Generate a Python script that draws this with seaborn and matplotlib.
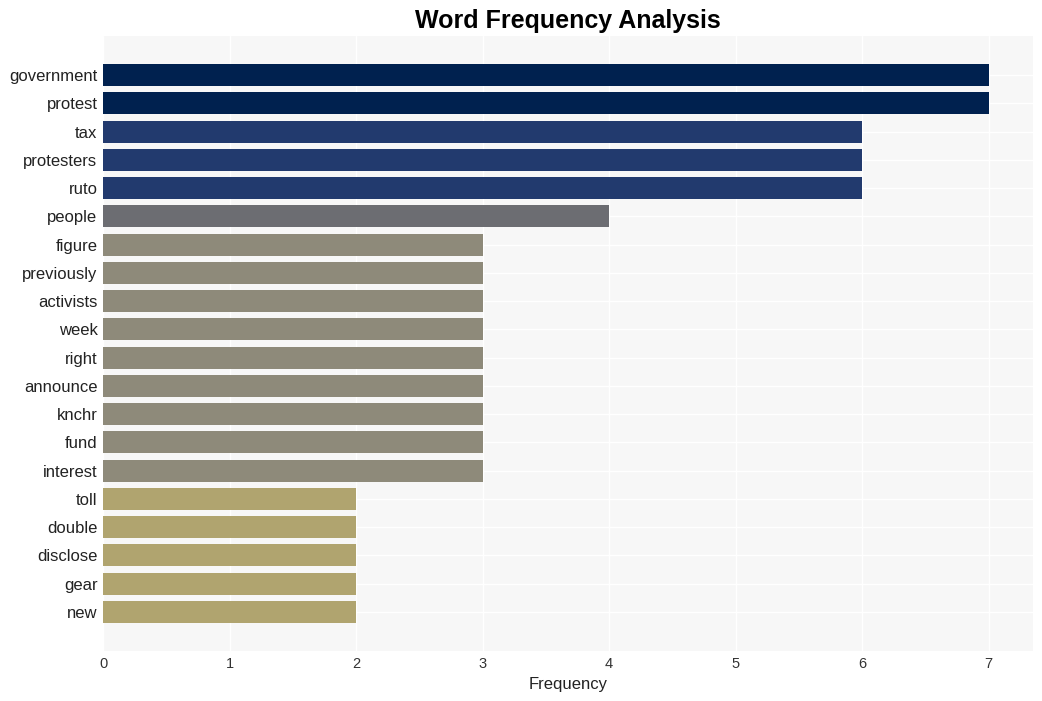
import matplotlib
matplotlib.use("Agg")
import matplotlib.pyplot as plt
import pandas as pd
import seaborn as sns

words = ["government", "protest", "tax", "protesters", "ruto", "people",
         "figure", "previously", "activists", "week", "right", "announce",
         "knchr", "fund", "interest", "toll", "double", "disclose", "gear", "new"]
counts = [7, 7, 6, 6, 6, 4, 3, 3, 3, 3, 3, 3, 3, 3, 3, 2, 2, 2, 2, 2]

# couleurs par fréquence
palette = {7: "#00214f", 6: "#223a6e", 4: "#6c6d72", 3: "#8e8a7a", 2: "#b0a46f"}

df = pd.DataFrame({"word": words, "count": counts})

sns.set_style("whitegrid", {"axes.facecolor": "#f7f7f7", "grid.color": "white"})
plt.rcParams["font.family"] = ["Liberation Sans", "DejaVu Sans"]

fig = plt.figure(figsize=(10.42, 7.01), dpi=100)
ax = fig.add_axes([103 / 1042, 1 - 651 / 701, 930 / 1042, 615 / 701])

sns.barplot(data=df, x="count", y="word", hue="count", palette=palette,
            dodge=False, legend=False, width=0.78, saturation=1,
            linewidth=0, ax=ax)

ax.set_xlim(0, 7.35)
ax.set_ylim(20.38, -1.38)
for s in ax.spines.values():
    s.set_visible(False)
ax.grid(True, axis="both", color="white", linewidth=1)
ax.set_axisbelow(True)
ax.tick_params(axis="y", labelsize=12, length=0, pad=4, labelcolor="#222222")
ax.tick_params(axis="x", labelsize=10.5, length=0, pad=4.5, labelcolor="#333333")
ax.set_xlabel("Frequency", fontsize=12, color="#222222", labelpad=4)
ax.set_ylabel("")
ax.set_title("Word Frequency Analysis", fontsize=18, fontweight="bold",
             color="black", pad=6)

fig.savefig("out.png", dpi=100)
